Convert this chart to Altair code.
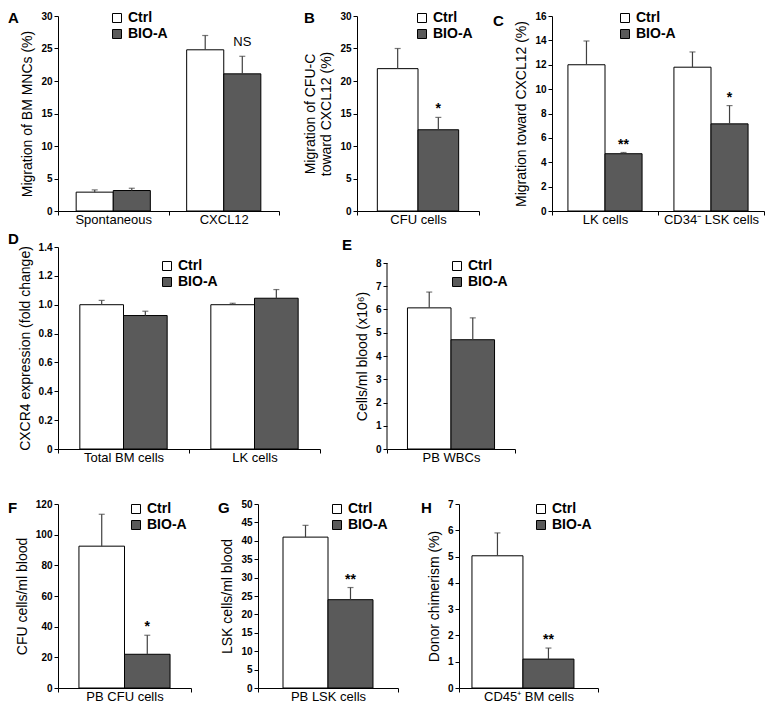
import altair as alt
import pandas as pd

FONT = "Liberation Sans"
GROUPS = ["Ctrl", "BIO-A"]
FILLS = ["#ffffff", "#5a5a5a"]
ERR_COLOR = "#404040"

# ---- Panel A ----
a_cats = ["Spontaneous", "CXCL12"]
a_ctrl = [2.9, 24.8]
a_ctrl_err = [0.35, 2.2]
a_bio = [3.15, 21.1]
a_bio_err = [0.35, 2.7]
a_notes = ["", "NS"]
a_ticks = [0, 5, 10, 15, 20, 25, 30]

# ---- Panel B ----
b_cats = ["CFU cells"]
b_ctrl = [21.9]
b_ctrl_err = [3.1]
b_bio = [12.5]
b_bio_err = [1.9]
b_notes = ["*"]
b_ticks = [0, 5, 10, 15, 20, 25, 30]

# ---- Panel C ----
c_cats = ["LK cells", "CD34\u207b LSK cells"]
c_ctrl = [12.0, 11.8]
c_ctrl_err = [1.95, 1.25]
c_bio = [4.7, 7.15]
c_bio_err = [0.1, 1.5]
c_notes = ["**", "*"]
c_ticks = [0, 2, 4, 6, 8, 10, 12, 14, 16]

# ---- Panel D ----
d_cats = ["Total BM cells", "LK cells"]
d_ctrl = [1.0, 1.0]
d_ctrl_err = [0.03, 0.01]
d_bio = [0.925, 1.045]
d_bio_err = [0.03, 0.06]
d_notes = ["", ""]
d_ticks = [0, 0.2, 0.4, 0.6, 0.8, 1.0, 1.2, 1.4]

# ---- Panel E ----
e_cats = ["PB WBCs"]
e_ctrl = [6.07]
e_ctrl_err = [0.68]
e_bio = [4.7]
e_bio_err = [0.94]
e_notes = [""]
e_ticks = [0, 1, 2, 3, 4, 5, 6, 7, 8]

# ---- Panel F ----
f_cats = ["PB CFU cells"]
f_ctrl = [92.5]
f_ctrl_err = [20.8]
f_bio = [22.0]
f_bio_err = [12.4]
f_notes = ["*"]
f_ticks = [0, 20, 40, 60, 80, 100, 120]

# ---- Panel G ----
g_cats = ["PB LSK cells"]
g_ctrl = [41.0]
g_ctrl_err = [3.2]
g_bio = [24.0]
g_bio_err = [3.3]
g_notes = ["**"]
g_ticks = [0, 5, 10, 15, 20, 25, 30, 35, 40, 45, 50]

# ---- Panel H ----
h_cats = ["CD45\u207a BM cells"]
h_ctrl = [5.03]
h_ctrl_err = [0.87]
h_bio = [1.1]
h_bio_err = [0.42]
h_notes = ["**"]
h_ticks = [0, 1, 2, 3, 4, 5, 6, 7]


def panel(letter, cats, ctrl, ctrl_err, bio, bio_err, notes, ticks, *, width, height,
          ymax, ytitle, legend_xy, letter_dx, letter_dy, pad_outer=0.5, align=0.5,
          note_dy=-4, note_size=14, note_weight="bold", axis_top=None, label_expr=None,
          title_y=None):
    rows = []
    for i, c in enumerate(cats):
        rows.append({"cat": c, "grp": "Ctrl", "val": ctrl[i], "err": ctrl_err[i], "note": ""})
        rows.append({"cat": c, "grp": "BIO-A", "val": bio[i], "err": bio_err[i], "note": notes[i]})
    df = pd.DataFrame(rows)
    df["top"] = df["val"] + df["err"]

    x = alt.X("cat:N", sort=cats, scale=alt.Scale(paddingInner=0, paddingOuter=0),
              axis=alt.Axis(title=None, labelAngle=0, tickBand="extent"))
    xo = alt.XOffset("grp:N", sort=GROUPS,
                     scale=alt.Scale(paddingInner=0, paddingOuter=pad_outer, align=align))
    yax = dict(title=ytitle, values=ticks)
    if label_expr:
        yax["labelExpr"] = label_expr
    if axis_top is not None:
        yax["domain"] = False
    if title_y is not None:
        yax["titleY"] = title_y
    yscale = alt.Scale(domain=[0, ymax], nice=False, zero=True)

    def Y(field):
        return alt.Y(field, scale=yscale, axis=alt.Axis(**yax))

    base = alt.Chart(df)
    bars = base.mark_bar(stroke="black", strokeWidth=1).encode(
        x=x, xOffset=xo, y=Y("val:Q"),
        color=alt.Color("grp:N", sort=GROUPS,
                        scale=alt.Scale(domain=GROUPS, range=FILLS),
                        legend=alt.Legend(orient="none", legendX=legend_xy[0],
                                          legendY=legend_xy[1], title=None)),
    )
    errs = base.mark_rule(color=ERR_COLOR, strokeWidth=1.2).encode(
        x=x, xOffset=xo, y=Y("val:Q"), y2="top:Q")
    caps = base.mark_tick(color=ERR_COLOR, size=6, thickness=1.2).encode(
        x=x, xOffset=xo, y=Y("top:Q"))
    txt = base.mark_text(font=FONT, fontSize=note_size, fontWeight=note_weight,
                         baseline="alphabetic", dy=note_dy, color="black").encode(
        x=x, xOffset=xo, y=Y("top:Q"), text="note:N")
    layers = [bars, errs, caps, txt]
    if axis_top is not None:
        axis_df = pd.DataFrame({"lo": [0], "hi": [axis_top]})
        layers.append(alt.Chart(axis_df).mark_rule(color="black", strokeWidth=1).encode(
            x=alt.value(0), y=Y("lo:Q"), y2="hi:Q"))
    return alt.layer(*layers).properties(
        width=width, height=height,
        title=alt.TitleParams(letter, anchor="start", frame="group", orient="top",
                              offset=0, dx=letter_dx, dy=letter_dy, fontSize=15,
                              fontWeight="bold", font=FONT, color="black",
                              baseline="alphabetic"))


H1, H2, H3 = 195, 202, 184
E_TOP_GAP = 16  # E's 8-tick sits lower than D's top

A = panel("A", a_cats, a_ctrl, a_ctrl_err, a_bio, a_bio_err, a_notes, a_ticks,
          width=221, height=H1, ymax=30, ytitle="Migration of BM MNCs (%)",
          legend_xy=(52, -5), letter_dx=-50, letter_dy=27, pad_outer=0.49,
          note_dy=-10, note_size=13, note_weight="normal")
B = panel("B", b_cats, b_ctrl, b_ctrl_err, b_bio, b_bio_err, b_notes, b_ticks,
          width=122, height=H1, ymax=30,
          ytitle=["Migration of CFU-C", "toward CXCL12 (%)"],
          legend_xy=(58, -5), letter_dx=-53, letter_dy=27, pad_outer=0.5)
C = panel("C", c_cats, c_ctrl, c_ctrl_err, c_bio, c_bio_err, c_notes, c_ticks,
          width=212, height=H1, ymax=16, ytitle="Migration toward CXCL12 (%)",
          legend_xy=(66, -5), letter_dx=-59, letter_dy=30, pad_outer=0.43)
D = panel("D", d_cats, d_ctrl, d_ctrl_err, d_bio, d_bio_err, d_notes, d_ticks,
          width=262, height=H2, ymax=1.4, ytitle="CXCR4 expression (fold change)",
          legend_xy=(102, 12), letter_dx=-50, letter_dy=17, pad_outer=0.5,
          label_expr="datum.value == 0 ? '0' : format(datum.value, '.1f')")
E = panel("E", e_cats, e_ctrl, e_ctrl_err, e_bio, e_bio_err, e_notes, e_ticks,
          width=128, height=H2, ymax=8 * H2 / (H2 - E_TOP_GAP),
          ytitle="Cells/ml blood (x10\u2076)",
          legend_xy=(63, 12), letter_dx=-45, letter_dy=18, pad_outer=0.47,
          axis_top=8, title_y=(H2 + E_TOP_GAP) / 2)
F = panel("F", f_cats, f_ctrl, f_ctrl_err, f_bio, f_bio_err, f_notes, f_ticks,
          width=133, height=H3, ymax=120, ytitle="CFU cells/ml blood",
          legend_xy=(71, -2), letter_dx=-50, letter_dy=29, pad_outer=0.46)
G = panel("G", g_cats, g_ctrl, g_ctrl_err, g_bio, g_bio_err, g_notes, g_ticks,
          width=140, height=H3, ymax=50, ytitle="LSK cells/ml blood",
          legend_xy=(72, -2), letter_dx=-40, letter_dy=29, pad_outer=0.556)
Hp = panel("H", h_cats, h_ctrl, h_ctrl_err, h_bio, h_bio_err, h_notes, h_ticks,
           width=139, height=H3, ymax=7, ytitle="Donor chimerism (%)",
           legend_xy=(75, -2), letter_dx=-38, letter_dy=29, pad_outer=0.363, align=0.35)


def hc(*charts, spacing):
    return alt.hconcat(*charts, spacing=spacing, bounds="flush").resolve_scale(
        color="independent", xOffset="independent")


def vc(*charts, spacing):
    return alt.vconcat(*charts, spacing=spacing, bounds="full").resolve_scale(
        color="independent", xOffset="independent")


row1 = hc(A, hc(B, C, spacing=73), spacing=78)
row2 = hc(D, E, spacing=67)
row3 = hc(F, hc(G, Hp, spacing=61), spacing=67)
chart = vc(row1, vc(row2, row3, spacing=35), spacing=6).properties(
    padding={"top": 3, "left": 0, "right": 0, "bottom": 0})

chart = (chart
         .configure_view(stroke=None)
         .configure_axis(domainColor="black", tickColor="black", labelColor="black",
                         titleColor="black", labelFont=FONT, titleFont=FONT, grid=False,
                         tickSize=4, domainWidth=1, tickWidth=1)
         .configure_axisY(labelFontSize=10, labelFontWeight="bold", labelPadding=2,
                          titleFontSize=14, titleFontWeight="normal", titlePadding=6)
         .configure_axisX(labelFontSize=13, labelPadding=-2)
         .configure_legend(symbolType="square", symbolSize=81, symbolStrokeColor="black",
                           symbolStrokeWidth=1, labelFontSize=14, labelFontWeight="bold",
                           labelFont=FONT, labelColor="black", rowPadding=2, padding=0,
                           labelOffset=4, symbolOpacity=1))

chart.save("out.html", embed_options={"renderer": "svg", "actions": False})
